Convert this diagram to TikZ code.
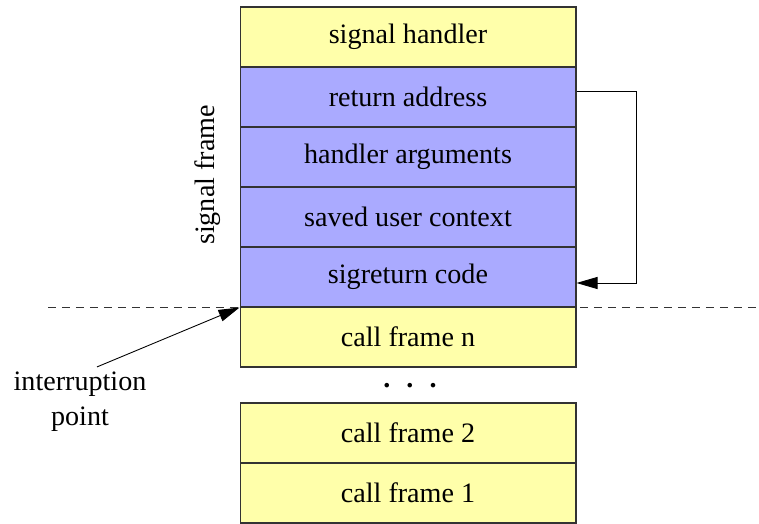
\documentclass[tikz,border=0pt]{standalone}
\usepackage{fontspec}
\setmainfont{Liberation Serif}
\usetikzlibrary{arrows.meta,positioning}
\definecolor{ink}{HTML}{333333}
\definecolor{framewash}{HTML}{FFFFAA}
\definecolor{sigwash}{HTML}{AAAAFF}
\tikzset{
frame/.style={draw=ink,fill=framewash,line width=.6pt,minimum width=6.72cm,minimum height=1.2cm,inner sep=0pt,font=\fontsize{16}{20}\selectfont},
sigframe/.style={frame,fill=sigwash},
flow/.style={-{Triangle[length=4.2mm,width=2.4mm]},line width=.5pt,draw=black},
label/.style={font=\fontsize{16}{20}\selectfont,align=center}}
\begin{document}
\begin{tikzpicture}[x=0.02cm,y=-0.02cm]
\useasboundingbox (0,0) rectangle (759,523);
\node[frame] (handler) at (408,37) {signal handler};
\node[sigframe] (ret) at (408,97) {return address};
\node[sigframe] (args) at (408,157) {handler arguments};
\node[sigframe] (ctx) at (408,217) {saved user context};
\node[sigframe] (sigret) at (408,277) {sigreturn code};
\node[frame] (calln) at (408,337) {call frame n};
\node[label] (dots) at (410,386) {\textbf{.\hspace{.32cm}.\hspace{.32cm}.}};
\node[frame] (call2) at (408,433) {call frame 2};
\node[frame] (call1) at (408,493) {call frame 1};
\node[label,rotate=90] (sigtag) at (208,175) {signal frame};
\node[label] (intr) at (80,402) {interruption\\point};
\coordinate (cutl) at (48,307);
\coordinate (cutr) at (759,307);
\draw[ink,dashed,dash pattern=on 1.6mm off 1.2mm,line width=.5pt] (cutl)--(cutr);
\draw[flow] ([yshift=.12cm]ret.east)--++(60,0)|-([yshift=-.12cm]sigret.east);
\draw[flow] (intr.north)++(17,1)--(sigret.south west);
\end{tikzpicture}
\end{document}
